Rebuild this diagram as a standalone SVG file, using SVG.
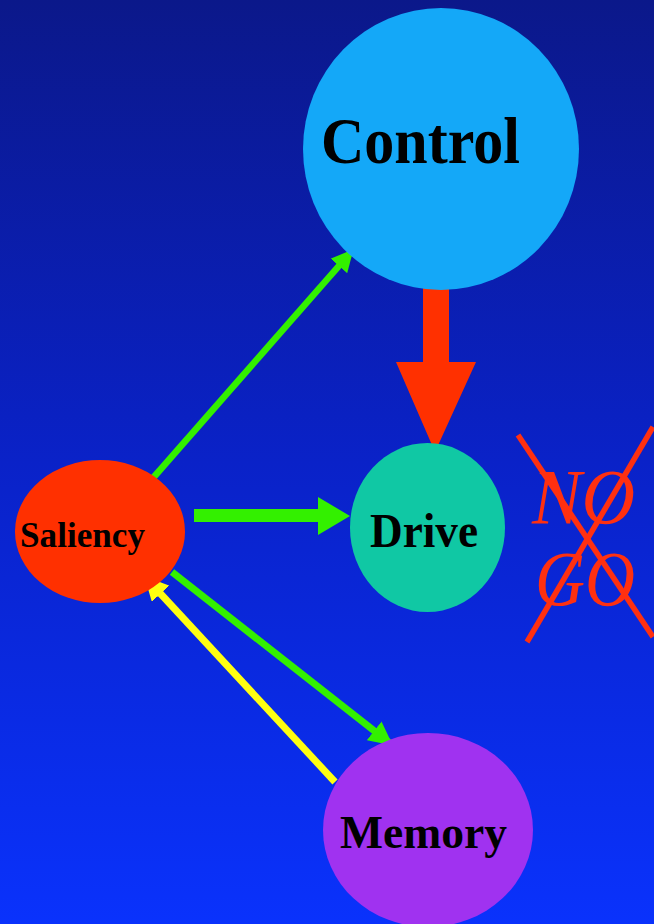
<svg xmlns="http://www.w3.org/2000/svg" width="654" height="924" viewBox="0 0 654 924">
  <defs>
    <linearGradient id="bg" x1="0" y1="0" x2="0" y2="1">
      <stop offset="0" stop-color="#0b188a"/>
      <stop offset="0.5" stop-color="#0a22c8"/>
      <stop offset="1" stop-color="#0a32fc"/>
    </linearGradient>
    <marker id="gh" viewBox="0 0 10 10" refX="9" refY="5" markerWidth="3.4" markerHeight="3.4" orient="auto" markerUnits="strokeWidth">
      <path d="M0,0 L10,5 L0,10 Z" fill="#33f000"/>
    </marker>
    <marker id="yh" viewBox="0 0 10 10" refX="9" refY="5" markerWidth="3.4" markerHeight="3.4" orient="auto" markerUnits="strokeWidth">
      <path d="M0,0 L10,5 L0,10 Z" fill="#ffff10"/>
    </marker>
  </defs>
  <style>
    .lbl { font-family: "Liberation Serif", "Times New Roman", serif; font-weight: bold; fill: #000; }
    .green { stroke: #33f000; fill: none; }
    .nogo { font-family: "Liberation Serif", "Times New Roman", serif; font-style: italic; fill: #ff3010; font-size: 78px; }
  </style>
  <rect x="0" y="0" width="654" height="924" fill="url(#bg)"/>

  <g id="connectors">
    <line class="green" x1="153" y1="478" x2="352" y2="251" stroke-width="6.5" marker-end="url(#gh)"/>
    <path d="M194,509 L318,509 L318,497 L350,516 L318,535 L318,522 L194,522 Z" fill="#33f000"/>
    <line class="green" x1="172" y1="572" x2="391" y2="744" stroke-width="7" marker-end="url(#gh)"/>
    <line x1="335" y1="782" x2="146" y2="578" stroke="#ffff10" stroke-width="7" marker-end="url(#yh)"/>
    <path d="M423,288 L449,288 L449,362 L476,362 L435,452 L396,362 L423,362 Z" fill="#ff3000"/>
  </g>

  <g id="control">
    <ellipse cx="441" cy="149" rx="138" ry="141" fill="#14a8f8"/>
    <text class="lbl" x="321" y="163" font-size="66" textLength="199" lengthAdjust="spacingAndGlyphs">Control</text>
  </g>

  <g id="drive">
    <ellipse cx="427.5" cy="527.5" rx="77.5" ry="84.5" fill="#10c8a4"/>
    <text class="lbl" x="370" y="547" font-size="48" textLength="108" lengthAdjust="spacingAndGlyphs">Drive</text>
  </g>

  <g id="saliency">
    <ellipse cx="100" cy="531.5" rx="85" ry="71.5" fill="#ff3000"/>
    <text class="lbl" x="20" y="547" font-size="35" textLength="125" lengthAdjust="spacingAndGlyphs">Saliency</text>
  </g>

  <g id="memory">
    <ellipse cx="428" cy="830" rx="105" ry="97" fill="#a032f0"/>
    <text class="lbl" x="340" y="848" font-size="47" textLength="167" lengthAdjust="spacingAndGlyphs">Memory</text>
  </g>

  <g id="nogo">
    <text class="nogo" x="532" y="523" textLength="103" lengthAdjust="spacingAndGlyphs">NO</text>
    <text class="nogo" x="535" y="605" textLength="100" lengthAdjust="spacingAndGlyphs">GO</text>
    <line x1="518" y1="435" x2="653" y2="637" stroke="#ff3010" stroke-width="5.5"/>
    <line x1="653" y1="427" x2="527" y2="642" stroke="#ff3010" stroke-width="5.5"/>
  </g>
</svg>
